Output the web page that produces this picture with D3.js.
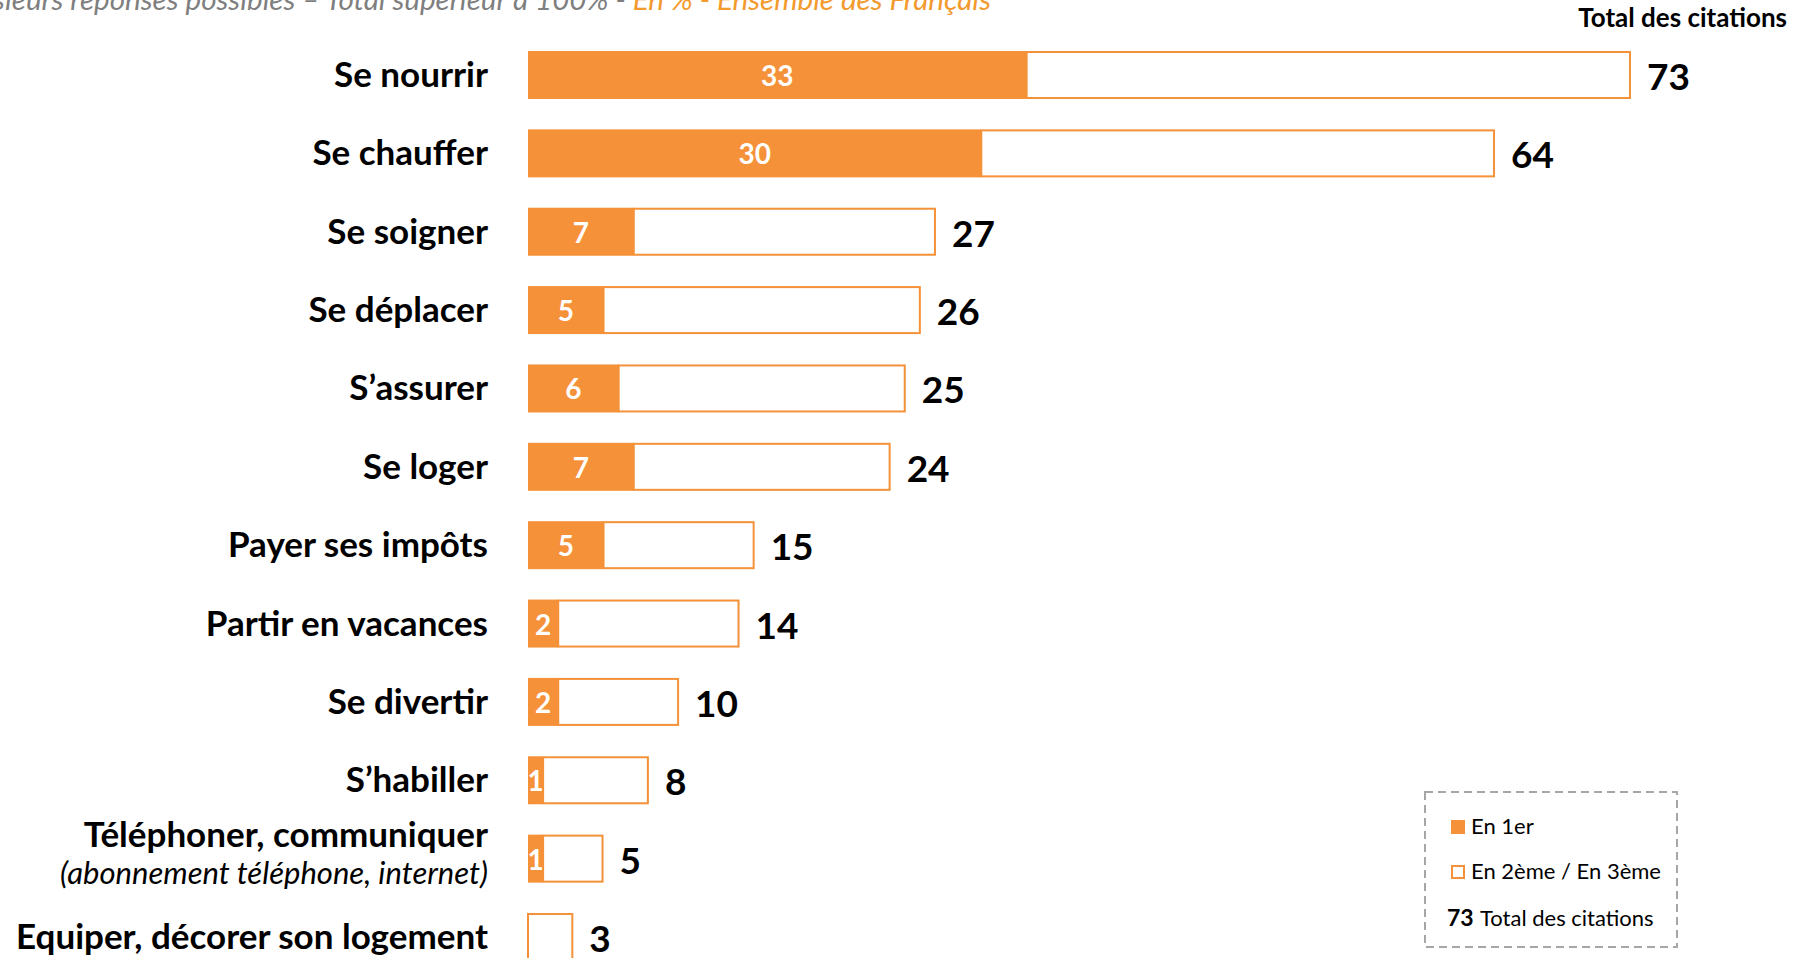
<!DOCTYPE html>
<html>
<head>
<meta charset="utf-8">
<script src="https://cdn.jsdelivr.net/npm/d3@7/dist/d3.min.js"></script>
<style>
    body { margin: 0; background: #fff; }
    svg { display: block; font-family: Lato, "Open Sans", sans-serif; }
</style>
</head>
<body>
<div class="chart"></div>
<script>
// data
var categories = ["Se nourrir", "Se chauffer", "Se soigner", "Se déplacer", "S’assurer", "Se loger",
    "Payer ses impôts", "Partir en vacances", "Se divertir", "S’habiller",
    "Téléphoner, communiquer", "Equiper, décorer son logement"];
var subLabels = ["", "", "", "", "", "", "", "", "", "", "(abonnement téléphone, internet)", ""];
var firstRank = [33, 30, 7, 5, 6, 7, 5, 2, 2, 1, 1, 0];
var totalCitations = [73, 64, 27, 26, 25, 24, 15, 14, 10, 8, 5, 3];
var legendLabels = ["En 1er", "En 2ème / En 3ème", "Total des citations"];

var width = 1795,
    height = 958,
    orange = "#f59138",
    barH = 48;

var rows = categories.map(function (c, i) {
    return {cat: c, sub: subLabels[i], first: firstRank[i], total: totalCitations[i]};
});

var svg = d3.select(".chart").append("svg")
    .attr("width", width)
    .attr("height", height);

//scales
var x = d3.scaleLinear()
    .domain([0, 73])
    .range([528, 1631]);

var y = d3.scalePoint()
    .domain(categories)
    .range([75, 937]);

// title line, cut at the top of the page
var title = svg.append("text")
    .attr("x", 991)
    .attr("y", 10)
    .attr("text-anchor", "end")
    .style("font-size", "29.6px")
    .style("font-style", "italic");
title.append("tspan").attr("fill", "#7f7f7f")
    .text("Plusieurs réponses possibles – Total supérieur à 100% - ");
title.append("tspan").attr("fill", "#f39a2e")
    .text("En % - Ensemble des Français");

svg.append("text")
    .attr("x", 1787)
    .attr("y", 27)
    .attr("text-anchor", "end")
    .style("font-size", "26px")
    .style("font-weight", "bold")
    .text("Total des citations");

var g = svg.selectAll(".row")
    .data(rows)
    .enter()
    .append("g")
    .attr("class", "row");

// orange part (ranked first)
g.append("rect")
    .attr("x", x(0))
    .attr("y", function (d) { return y(d.cat) - barH / 2; })
    .attr("width", function (d) { return x(d.first) - x(0); })
    .attr("height", barH)
    .attr("fill", orange);

g.filter(function (d) { return d.first > 0; })
    .append("text")
    .attr("x", function (d) { return (x(0) + x(d.first)) / 2; })
    .attr("y", function (d) { return y(d.cat) + 11; })
    .attr("text-anchor", "middle")
    .attr("fill", "#fff")
    .style("font-size", "28px")
    .style("font-weight", "bold")
    .text(function (d) { return d.first; });

// white part (2nd / 3rd), drawn over the label like the original
g.append("rect")
    .attr("x", function (d) { return x(d.first); })
    .attr("y", function (d) { return y(d.cat) - barH / 2 + 1; })
    .attr("width", function (d) { return x(d.total) - x(d.first) - 1; })
    .attr("height", barH - 2)
    .attr("fill", "#fff")
    .attr("stroke", orange)
    .attr("stroke-width", 2);

// totals
g.append("text")
    .attr("x", function (d) { return x(d.total) + 16; })
    .attr("y", function (d) { return y(d.cat) + 15; })
    .style("font-size", "37px")
    .style("font-weight", "bold")
    .text(function (d) { return d.total; });

// category labels
g.append("text")
    .attr("x", 488)
    .attr("y", function (d) { return d.sub ? y(d.cat) - 12 : y(d.cat) + 12; })
    .attr("text-anchor", "end")
    .style("font-size", "35px")
    .style("font-weight", "bold")
    .text(function (d) { return d.cat; });

g.filter(function (d) { return d.sub; })
    .append("text")
    .attr("x", 488)
    .attr("y", function (d) { return y(d.cat) + 25; })
    .attr("text-anchor", "end")
    .style("font-size", "31px")
    .style("font-style", "italic")
    .text(function (d) { return d.sub; });

// legend
var lg = svg.append("g").attr("class", "legend");
lg.append("rect")
    .attr("x", 1425).attr("y", 792)
    .attr("width", 252).attr("height", 155)
    .attr("fill", "none")
    .attr("stroke", "#a6a6a6")
    .attr("stroke-width", 2)
    .attr("stroke-dasharray", "8,5");

lg.append("rect")
    .attr("x", 1451).attr("y", 820)
    .attr("width", 14).attr("height", 14)
    .attr("fill", orange);
lg.append("text")
    .attr("x", 1471).attr("y", 834)
    .style("font-size", "22px")
    .text(legendLabels[0]);

lg.append("rect")
    .attr("x", 1452).attr("y", 866)
    .attr("width", 12).attr("height", 12)
    .attr("fill", "#fff")
    .attr("stroke", orange)
    .attr("stroke-width", 2);
lg.append("text")
    .attr("x", 1471).attr("y", 879)
    .style("font-size", "22px")
    .text(legendLabels[1]);

lg.append("text")
    .attr("x", 1447).attr("y", 926)
    .style("font-size", "23px")
    .style("font-weight", "bold")
    .text(totalCitations[0]);
lg.append("text")
    .attr("x", 1480).attr("y", 926)
    .style("font-size", "22px")
    .text(legendLabels[2]);
</script>
</body>
</html>
